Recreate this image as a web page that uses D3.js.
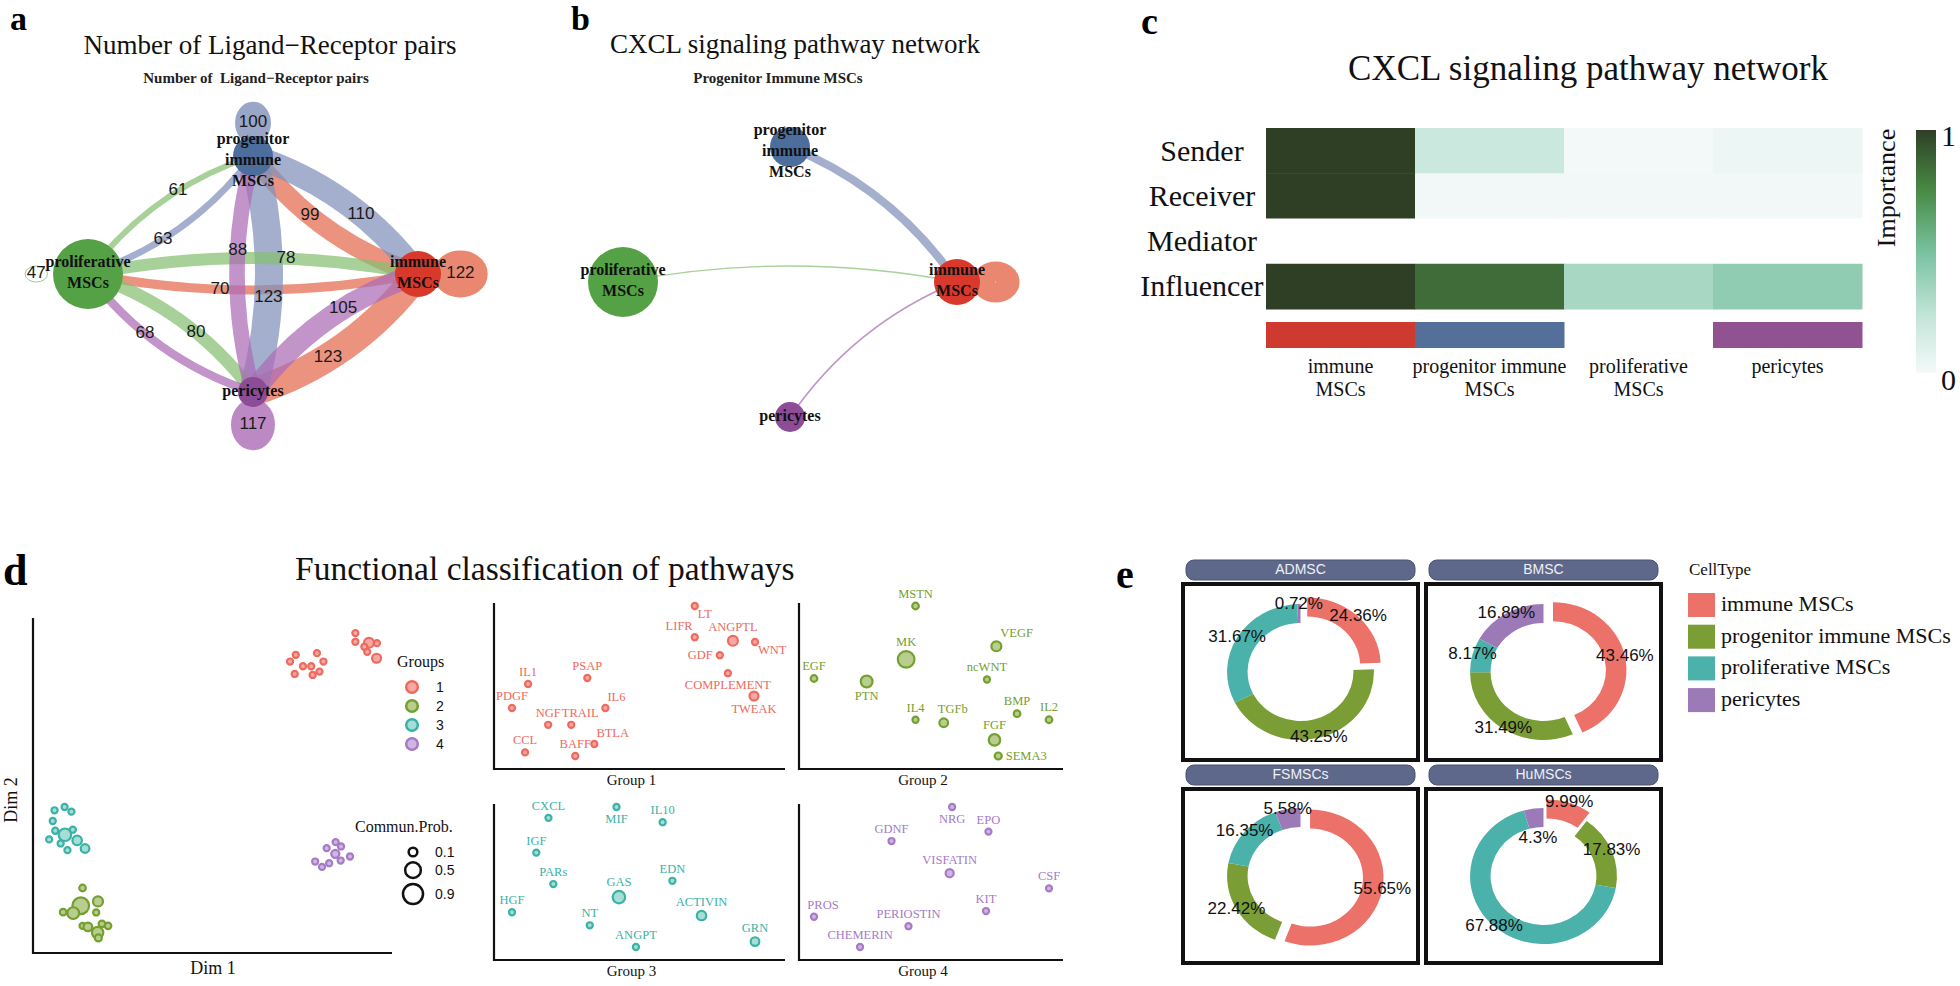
<!DOCTYPE html>
<html><head><meta charset="utf-8">
<script src="https://cdn.jsdelivr.net/npm/d3@7"></script>
<style>body{margin:0;background:#fff}svg{display:block}text{white-space:pre}</style>
</head><body>
<svg id="fig" width="1960" height="986"></svg>
<script>
// ================= DATA =================
const cellTypes = ["immune MSCs","progenitor immune MSCs","proliferative MSCs","pericytes"];
const nodeLabelLines = [["immune","MSCs"],["progenitor","immune","MSCs"],["proliferative","MSCs"],["pericytes"]];
const vertexWeight = [23, 20, 35, 15];
// panel a: number of ligand-receptor pairs, rows = source, cols = target
const lrImmune       = [122, 99, 70, 123];
const lrProgenitor   = [110, 100, 63, 123];
const lrProliferative= [78, 61, 47, 80];
const lrPericytes    = [105, 88, 68, 117];
// panel b: CXCL communication strength (rows = source)
const cxclImmune        = [1.00, 0, 0, 0];
const cxclProgenitor    = [0.32, 0, 0, 0];
const cxclProliferative = [0.02, 0, 0, 0];
const cxclPericytes     = [0.04, 0, 0, 0];
// panel c: network centrality importance
const roles = ["Sender","Receiver","Mediator","Influencer"];
const senderImp     = [1.00, 0.20, 0.01, 0.04];
const receiverImp   = [1.00, 0.02, 0.02, 0.02];
const mediatorImp   = [null, null, null, null];
const influencerImp = [1.00, 0.85, 0.33, 0.42];
const heatColLabels = [["immune","MSCs"],["progenitor immune","MSCs"],["proliferative","MSCs"],["pericytes"]];
// panel d: pathway embedding
const pathways = ["LT","LIFR","ANGPTL","WNT","GDF","COMPLEMENT","TWEAK","IL1","PSAP","PDGF","IL6","NGF","TRAIL","BTLA","CCL","BAFF",
  "MSTN","MK","EGF","PTN","VEGF","ncWNT","BMP","IL2","IL4","TGFb","FGF","SEMA3",
  "CXCL","MIF","IL10","IGF","PARs","EDN","GAS","HGF","NT","ACTIVIN","ANGPT","GRN",
  "NRG","EPO","GDNF","VISFATIN","CSF","KIT","PROS","PERIOSTIN","CHEMERIN"];
const pathwayGroup = [1,1,1,1,1,1,1,1,1,1,1,1,1,1,1,1, 2,2,2,2,2,2,2,2,2,2,2,2, 3,3,3,3,3,3,3,3,3,3,3,3, 4,4,4,4,4,4,4,4,4];
const dim1 = [8.98,8.98,9.36,9.58,9.23,9.31,9.57,7.32,7.91,7.16,8.09,7.52,7.75,7.98,7.29,7.79,
  1.38,1.33,0.84,1.12,1.81,1.76,1.92,2.09,1.38,1.53,1.80,1.82,
  0.60,0.88,1.07,0.55,0.62,1.11,0.89,0.45,0.77,1.23,0.96,1.45,
  8.43,8.58,8.18,8.42,8.83,8.57,7.86,8.25,8.05];
const dim2 = [9.55,9.29,9.26,9.25,9.14,8.99,8.80,8.90,8.95,8.70,8.70,8.56,8.56,8.40,8.33,8.30,
  1.94,1.41,1.22,1.19,1.54,1.21,0.87,0.81,0.81,0.78,0.61,0.45,
  4.26,4.36,4.22,3.94,3.65,3.68,3.53,3.39,3.27,3.36,3.07,3.12,
  3.31,3.18,3.13,2.96,2.88,2.76,2.73,2.68,2.57];
const commProb = [0.03,0.03,0.15,0.03,0.03,0.03,0.11,0.03,0.03,0.03,0.03,0.03,0.03,0.03,0.03,0.03,
  0.04,0.58,0.04,0.24,0.15,0.03,0.04,0.04,0.03,0.10,0.22,0.05,
  0.03,0.03,0.03,0.03,0.03,0.03,0.28,0.03,0.03,0.13,0.03,0.10,
  0.03,0.03,0.03,0.08,0.03,0.03,0.03,0.03,0.03];
const groupIds = [1,2,3,4];
const probLegend = [0.1, 0.5, 0.9];
// panel e: cell-type proportions per MSC source
const mscSources = ["ADMSC","BMSC","FSMSCs","HuMSCs"];
const pctImmune        = [24.36, 43.46, 55.65, 9.99];
const pctProgenitor    = [43.25, 31.49, 22.42, 17.83];
const pctProliferative = [31.67, 8.17, 16.35, 67.88];
const pctPericytes     = [0.72, 16.89, 5.58, 4.3];

// ================= STYLE =================
const serif = "'Liberation Serif','Times New Roman',serif";
const sans = "'Liberation Sans',Arial,sans-serif";
const nodeColor = ["#D8392B","#4D6E9D","#55A145","#8D4C98"];
const edgeColor = ["#E5694E","#8090BA","#85BF70","#AB6BB5"];
const layoutAngle = [0, -90, 180, 90];
const groupStroke = {1:"#EE6A5E",2:"#74A030",3:"#3AB2A6",4:"#A57BC6"};
const groupFill = {1:"#F6A9A2",2:"#B9CD8E",3:"#A6DDD6",4:"#D0B6E0"};
const donutColor = ["#EC7168","#7A9D36","#4BB2AB","#9C7AB7"];
const labelDir = {LT:"se",LIFR:"nw",WNT:"se",GDF:"w",COMPLEMENT:"s",TWEAK:"s",IL6:"ne",BTLA:"ne",PTN:"s",VEGF:"ne",SEMA3:"e",MIF:"s",NRG:"s",TRAIL:"n+",TGFb:"n+",PROS:"n+"};

const svg = d3.select("#fig");
function text(g, x, y, s, o) {
  o = o || {};
  return g.append("text").attr("x", x).attr("y", y).text(s)
    .attr("font-family", o.family || serif).attr("font-size", o.size || 16)
    .attr("font-weight", o.weight || "normal").attr("fill", o.fill || "#111")
    .attr("text-anchor", o.anchor || "start").attr("dominant-baseline", o.baseline || "auto");
}

// panel letters
[["a",10,30,34],["b",571,30,34],["c",1141,34,38],["d",3,585,44],["e",1116,588,40]].forEach(d =>
  text(svg, d[1], d[2], d[0], {size: d[3], weight: "bold", fill: "#000"}));

// ================= NETWORK (a, b) =================
function drawNetwork(g, cfg, matrix, wScale) {
  const pos = cellTypes.map((c, i) => {
    const a = layoutAngle[i] * Math.PI / 180;
    return [cfg.cx + cfg.rx * Math.cos(a), cfg.cy + cfg.ry * Math.sin(a)];
  });
  const links = [], loops = [];
  matrix.forEach((row, i) => row.forEach((v, j) => { if (v > 0) (i === j ? loops : links).push({i, j, v}); }));
  const C = 32;
  const lg = g.append("g");
  loops.forEach(l => {
    const [x, y] = pos[l.i];
    let ux = x - cfg.cx, uy = y - cfg.cy; const n = Math.hypot(ux, uy); ux /= n; uy /= n;
    const w = wScale(l.v), r = Math.max(w * 0.35, 8), a = r * 1.4;
    const d = vertexWeight[l.i] + a + w / 2 - 8 + Math.max(0, 14 - w);
    l.lx = x + ux * d; l.ly = y + uy * d;
    lg.append("ellipse").attr("rx", a).attr("ry", r)
      .attr("transform", `translate(${l.lx},${l.ly}) rotate(${Math.atan2(uy, ux) * 180 / Math.PI})`)
      .attr("fill", "none").attr("stroke", edgeColor[l.i]).attr("stroke-width", w).attr("stroke-opacity", 0.8);
  });
  links.forEach(l => {
    const [x1, y1] = pos[l.i], [x2, y2] = pos[l.j];
    const dx = x2 - x1, dy = y2 - y1, len = Math.hypot(dx, dy);
    const qx = (x1 + x2) / 2 + dy / len * C, qy = (y1 + y2) / 2 - dx / len * C;
    lg.append("path").attr("d", `M${x1},${y1}Q${qx},${qy} ${x2},${y2}`)
      .attr("fill", "none").attr("stroke", edgeColor[l.i]).attr("stroke-width", wScale(l.v)).attr("stroke-opacity", 0.72);
    const t = 0.6;
    l.lx = (1 - t) * (1 - t) * x1 + 2 * t * (1 - t) * qx + t * t * x2;
    l.ly = (1 - t) * (1 - t) * y1 + 2 * t * (1 - t) * qy + t * t * y2;
  });
  const ng = g.append("g");
  pos.forEach((p, i) => ng.append("circle").attr("cx", p[0]).attr("cy", p[1]).attr("r", vertexWeight[i]).attr("fill", nodeColor[i]));
  if (cfg.edgeLabels) {
    links.concat(loops).forEach(l => text(g, l.lx, l.ly, l.v, {family: sans, size: 17, anchor: "middle", baseline: "middle", fill: "#1a1a1a"}));
  }
  pos.forEach((p, i) => {
    const lines = nodeLabelLines[i], lh = 21;
    const shift = lines.length > 2 ? 5 : 0;
    lines.forEach((s, k) => text(g, p[0], p[1] + shift + (k - (lines.length - 1) / 2) * lh, s,
      {size: 16, weight: "bold", anchor: "middle", baseline: "middle", fill: "#111"}));
  });
}

const ga = svg.append("g");
text(ga, 270, 54, "Number of Ligand\u2212Receptor pairs", {size: 27, anchor: "middle", fill: "#111"});
text(ga, 256, 83, "Number of  Ligand\u2212Receptor pairs", {size: 15, weight: "bold", anchor: "middle", fill: "#222"});
const lrMatrix = [lrImmune, lrProgenitor, lrProliferative, lrPericytes];
drawNetwork(ga, {cx: 253, cy: 274, rx: 165, ry: 118, edgeLabels: true}, lrMatrix,
  d3.scaleLinear().domain([47, 123]).range([1, 28]));

const gb = svg.append("g");
text(gb, 795, 53, "CXCL signaling pathway network", {size: 27, anchor: "middle", fill: "#111"});
text(gb, 778, 83, "Progenitor Immune MSCs", {size: 15, weight: "bold", anchor: "middle", fill: "#222"});
const cxclMatrix = [cxclImmune, cxclProgenitor, cxclProliferative, cxclPericytes];
drawNetwork(gb, {cx: 790, cy: 282, rx: 167, ry: 135, edgeLabels: false}, cxclMatrix,
  d3.scaleLinear().domain([0, 1]).range([0.8, 24]));

// ================= HEATMAP (c) =================
const gc = svg.append("g");
text(gc, 1588, 80, "CXCL signaling pathway network", {size: 35, anchor: "middle", fill: "#111"});
const xB = d3.scaleBand().domain(cellTypes).range([1266, 1862]);
const yB = d3.scaleBand().domain(roles).range([128, 309]);
const heat = d3.scaleLinear().domain([0, 0.25, 0.5, 0.75, 1])
  .range(["#F5FAFA", "#BFE3D6", "#78C19F", "#4A8A46", "#2E3F26"]);
const roleValues = [senderImp, receiverImp, mediatorImp, influencerImp];
roles.forEach((r, ri) => {
  cellTypes.forEach((c, ci) => {
    const v = roleValues[ri][ci];
    gc.append("rect").attr("x", xB(c)).attr("y", yB(r)).attr("width", xB.bandwidth() + 0.5).attr("height", yB.bandwidth() + 0.5)
      .attr("fill", v == null ? "#FFFFFF" : heat(v));
  });
  text(gc, 1202, yB(r) + yB.bandwidth() / 2 + 3, r, {size: 30, anchor: "middle", baseline: "middle", fill: "#111"});
});
const annotColor = ["#CF3A30", "#546F99", null, "#915291"];
cellTypes.forEach((c, ci) => {
  if (annotColor[ci]) gc.append("rect").attr("x", xB(c)).attr("y", 322).attr("width", xB.bandwidth() + 0.5).attr("height", 26).attr("fill", annotColor[ci]);
  heatColLabels[ci].forEach((s, k) => text(gc, xB(c) + xB.bandwidth() / 2, 368 + k * 23, s, {size: 20, anchor: "middle", baseline: "middle", fill: "#111"}));
});
const defs = svg.append("defs");
const grad = defs.append("linearGradient").attr("id", "imp").attr("x1", 0).attr("x2", 0).attr("y1", 1).attr("y2", 0);
d3.range(0, 1.0001, 0.05).forEach(t => grad.append("stop").attr("offset", t).attr("stop-color", heat(t)));
const cbY = d3.scaleLinear().domain([0, 1]).range([373, 130]);
gc.append("rect").attr("x", 1916).attr("y", cbY(1)).attr("width", 20).attr("height", cbY(0) - cbY(1)).attr("fill", "url(#imp)");
text(gc, 1941, cbY(1) + 9, "1", {size: 30, baseline: "middle"});
text(gc, 1941, cbY(0) + 10, "0", {size: 30, baseline: "middle"});
text(gc, 0, 0, "Importance", {size: 26, anchor: "middle", baseline: "middle"}).attr("transform", "translate(1889,188) rotate(-90)");

// ================= EMBEDDING (d) =================
const gd = svg.append("g");
text(gd, 295, 580, "Functional classification of pathways", {size: 33.5, fill: "#111"});
const pts = pathways.map((p, i) => ({name: p, g: pathwayGroup[i], x: dim1[i], y: dim2[i], p: commProb[i]}));
const rScale = d3.scaleSqrt().domain([0, 0.9]).range([2.5, 11]);
const mx = d3.scaleLinear().domain([0, 10]).range([33, 392]);
const my = d3.scaleLinear().domain([0, 10]).range([953, 618]);
gd.append("path").attr("d", `M33,618V953H392`).attr("fill", "none").attr("stroke", "#111").attr("stroke-width", 2.2);
function drawPt(g, d, x, y) {
  g.append("circle").attr("cx", x).attr("cy", y).attr("r", Math.max(rScale(d.p) - 1, 1.5))
    .attr("fill", groupFill[d.g]).attr("stroke", groupStroke[d.g]).attr("stroke-width", 2.2);
}
pts.forEach(d => drawPt(gd, d, mx(d.x), my(d.y)));
text(gd, 213, 970, "Dim 1", {size: 18, anchor: "middle", baseline: "middle"});
text(gd, 0, 0, "Dim 2", {size: 18, anchor: "middle", baseline: "middle"}).attr("transform", "translate(13,800) rotate(-90)");
text(gd, 397, 663, "Groups", {size: 16, baseline: "middle"});
groupIds.forEach((gid, k) => {
  const y = 687 + k * 19;
  gd.append("circle").attr("cx", 412).attr("cy", y).attr("r", 5.8).attr("fill", groupFill[gid]).attr("stroke", groupStroke[gid]).attr("stroke-width", 2.5);
  text(gd, 436, y + 1, gid, {family: sans, size: 14, baseline: "middle"});
});
text(gd, 355, 828, "Commun.Prob.", {size: 16, baseline: "middle"});
let ly = 852;
probLegend.forEach((p, k) => {
  const r = rScale(p);
  if (k > 0) ly += rScale(probLegend[k - 1]) + r + 4;
  gd.append("circle").attr("cx", 413).attr("cy", ly).attr("r", r - 1).attr("fill", "#fff").attr("stroke", "#111").attr("stroke-width", 2.5);
  text(gd, 435, ly + 1, p, {family: sans, size: 14, baseline: "middle"});
});
// zoomed sub-panels
const subCols = [[494, 785, 18, 30], [799, 1063, 15, 14]];
const subRows = [[603, 769], [804, 960]];
groupIds.forEach((gid, k) => {
  const [l, r, pl, pr] = subCols[k % 2];
  const [t, b] = subRows[Math.floor(k / 2)];
  const gp = pts.filter(d => d.g === gid);
  const sx = d3.scaleLinear().domain(d3.extent(gp, d => d.x)).range([l + pl, r - pr]);
  const sy = d3.scaleLinear().domain(d3.extent(gp, d => d.y)).range([b - 13, t + 3]);
  gd.append("path").attr("d", `M${l},${t}V${b}H${r}`).attr("fill", "none").attr("stroke", "#111").attr("stroke-width", 2.2);
  text(gd, (l + r) / 2 - 8, b + 13, "Group " + gid, {size: 15, anchor: "middle", baseline: "middle"});
  gp.forEach(d => {
    const x = sx(d.x), y = sy(d.y), rr = rScale(d.p);
    drawPt(gd, d, x, y);
    const dir = labelDir[d.name] || "n";
    const off = {n: [0, -rr - 4, "middle"], "n+": [9, -rr - 4, "middle"], s: [0, rr + 12, "middle"], e: [rr + 3, 4, "start"], w: [-rr - 3, 4, "end"],
      ne: [rr - 2, -rr - 3, "start"], nw: [-rr + 2, -rr - 3, "end"], se: [rr - 1, rr + 8, "start"]}[dir];
    text(gd, x + off[0], y + off[1], d.name, {size: 12.5, anchor: off[2], fill: groupStroke[gid]});
  });
});

// ================= DONUTS (e) =================
const ge = svg.append("g");
const pctByType = [pctImmune, pctProgenitor, pctProliferative, pctPericytes];
const facetX = [1181, 1424], facetY = [582, 787], facetW = 239, facetH = [180, 178];
const pie = d3.pie().sort(null).value(d => d.v);
const arc = d3.arc().innerRadius(49).outerRadius(68);
mscSources.forEach((src, k) => {
  const fx = facetX[k % 2], row = Math.floor(k / 2), fy = facetY[row], fh = facetH[row];
  ge.append("rect").attr("x", fx + 5).attr("y", fy - 22).attr("width", facetW - 10).attr("height", 20).attr("rx", 8)
    .attr("fill", "#5E688B").attr("stroke", "#4A5272").attr("stroke-width", 1);
  text(ge, fx + facetW / 2, fy - 11.5, src, {family: sans, size: 14, anchor: "middle", baseline: "middle", fill: "#EEF0F6"});
  ge.append("rect").attr("x", fx + 2).attr("y", fy + 2).attr("width", facetW - 4).attr("height", fh - 4)
    .attr("fill", "#fff").attr("stroke", "#111").attr("stroke-width", 4);
  const cx = fx + facetW / 2, cy = fy + fh / 2;
  const vals = cellTypes.map((c, i) => ({c, i, v: pctByType[i][k]}));
  const arcs = pie(vals);
  const dg = ge.append("g").attr("transform", `translate(${cx},${cy}) scale(1.08,1)`);
  arcs.forEach(a => {
    const mid = (a.startAngle + a.endAngle) / 2;
    const ex = a.data.i === 0 ? 9 : 0;
    a.ox = Math.sin(mid) * ex; a.oy = -Math.cos(mid) * ex;
    dg.append("path").attr("d", arc(a)).attr("fill", donutColor[a.data.i]).attr("transform", `translate(${a.ox},${a.oy})`);
  });
  const placed = [];
  arcs.forEach(a => {
    const mid = (a.startAngle + a.endAngle) / 2;
    const s = a.data.v + "%", w = s.length * 8.5;
    const at = R => [cx + (Math.sin(mid) * R + a.ox) * 1.08, cy - Math.cos(mid) * R + a.oy];
    let [x, y] = at(68);
    const hit = placed.some(p => Math.abs(p[0] - x) < (p[2] + w) / 2 && Math.abs(p[1] - y) < 17);
    if (hit) [x, y] = at(38);
    placed.push([x, y, w]);
    text(ge, x, y, s, {family: sans, size: 17, anchor: "middle", baseline: "middle", fill: "#111"});
  });
});
text(ge, 1689, 571, "CellType", {size: 17, baseline: "middle"});
cellTypes.forEach((c, i) => {
  const y = 593 + i * 31.7;
  ge.append("rect").attr("x", 1688).attr("y", y).attr("width", 27).attr("height", 24).attr("fill", donutColor[i]);
  text(ge, 1721, y + 13, c, {size: 22, baseline: "middle"});
});
</script>
</body></html>
